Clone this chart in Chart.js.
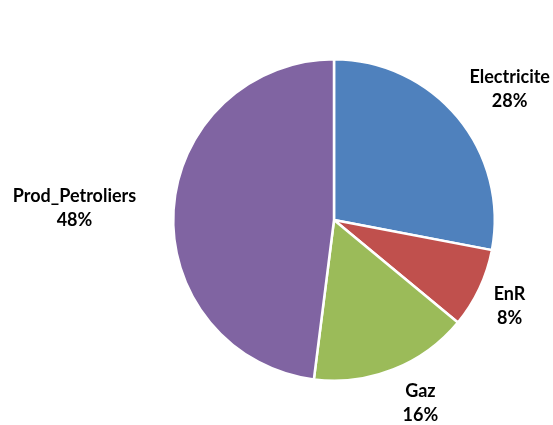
<!DOCTYPE html>
<html>
<head>
<meta charset="utf-8">
<script src="https://cdn.jsdelivr.net/npm/chart.js@4"></script>
<style>
  html, body { margin: 0; padding: 0; background: #fff; }
  #wrap { width: 553px; height: 425px; }
</style>
</head>
<body>
<div id="wrap"><canvas id="c" width="553" height="425"></canvas></div>
<script>
// Données
const categories = ['Electricite', 'EnR', 'Gaz', 'Prod_Petroliers'];
const parts = [28, 8, 16, 48];
const couleurs = ['#4F81BD', '#C0504D', '#9BBB59', '#8064A2'];

// placement des libellés : distance (x rayon) et décalage d'angle (degrés), réglés à l'oeil
const labelDist = [1.363, 1.217, 1.262, 1.616];
const labelTurn = [2.9, 1.0, -3.6, -1.0];

const labelsPlugin = {
  id: 'pieLabels',
  afterDatasetsDraw(chart) {
    const ctx = chart.ctx;
    const meta = chart.getDatasetMeta(0);
    ctx.save();
    ctx.font = 'bold 18px Lato, "Open Sans", sans-serif';
    ctx.fillStyle = '#000';
    ctx.textAlign = 'center';
    ctx.textBaseline = 'middle';
    meta.data.forEach((arc, i) => {
      const p = arc.getProps(['x', 'y', 'startAngle', 'endAngle', 'outerRadius'], true);
      const mid = (p.startAngle + p.endAngle) / 2 + labelTurn[i] * Math.PI / 180;
      const d = p.outerRadius * labelDist[i];
      const x = p.x + Math.cos(mid) * d;
      const y = p.y + Math.sin(mid) * d;
      ctx.fillText(categories[i], x, y - 12);
      ctx.fillText(parts[i] + '%', x, y + 12);
    });
    ctx.restore();
  }
};

new Chart(document.getElementById('c'), {
  type: 'pie',
  data: {
    labels: categories,
    datasets: [{
      data: parts,
      backgroundColor: couleurs,
      borderColor: '#fff',
      borderWidth: 2.5
    }]
  },
  options: {
    responsive: false,
    animation: false,
    layout: { padding: { top: 58, bottom: 43, left: 172, right: 57 } },
    plugins: { legend: { display: false }, tooltip: { enabled: false } }
  },
  plugins: [labelsPlugin]
});
</script>
</body>
</html>
